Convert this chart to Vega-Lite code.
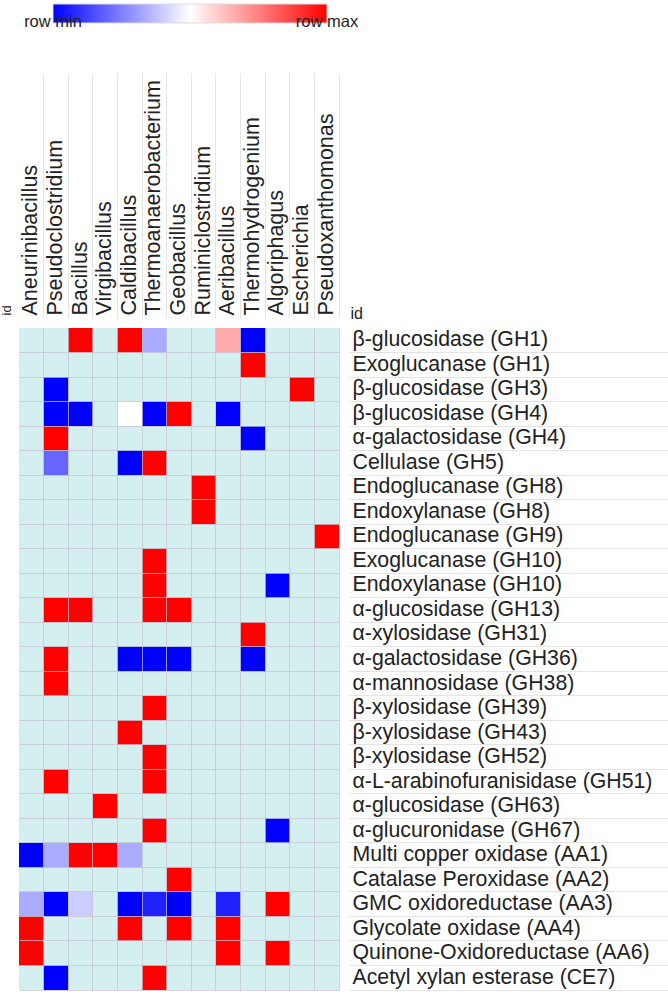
{
  "$schema": "https://vega.github.io/schema/vega-lite/v6.json",
  "width": 320,
  "height": 662,
  "autosize": {"type": "none"},
  "padding": {"left": 19, "top": 328, "right": 329, "bottom": 4},
  "background": "white",
  "config": {"view": {"fill": "#d3efef", "stroke": null}, "font": "Liberation Sans"},
  "data": {"values": [
    {"enzyme": "β-glucosidase (GH1)", "genus": "Bacillus", "value": 1},
    {"enzyme": "β-glucosidase (GH1)", "genus": "Caldibacillus", "value": 1},
    {"enzyme": "β-glucosidase (GH1)", "genus": "Thermoanaerobacterium", "value": -0.33},
    {"enzyme": "β-glucosidase (GH1)", "genus": "Aeribacillus", "value": 0.33},
    {"enzyme": "β-glucosidase (GH1)", "genus": "Thermohydrogenium", "value": -1},
    {"enzyme": "Exoglucanase (GH1)", "genus": "Thermohydrogenium", "value": 1},
    {"enzyme": "β-glucosidase (GH3)", "genus": "Pseudoclostridium", "value": -1},
    {"enzyme": "β-glucosidase (GH3)", "genus": "Escherichia", "value": 1},
    {"enzyme": "β-glucosidase (GH4)", "genus": "Pseudoclostridium", "value": -1},
    {"enzyme": "β-glucosidase (GH4)", "genus": "Bacillus", "value": -1},
    {"enzyme": "β-glucosidase (GH4)", "genus": "Caldibacillus", "value": 0},
    {"enzyme": "β-glucosidase (GH4)", "genus": "Thermoanaerobacterium", "value": -1},
    {"enzyme": "β-glucosidase (GH4)", "genus": "Geobacillus", "value": 1},
    {"enzyme": "β-glucosidase (GH4)", "genus": "Aeribacillus", "value": -1},
    {"enzyme": "α-galactosidase (GH4)", "genus": "Pseudoclostridium", "value": 1},
    {"enzyme": "α-galactosidase (GH4)", "genus": "Thermohydrogenium", "value": -1},
    {"enzyme": "Cellulase (GH5)", "genus": "Pseudoclostridium", "value": -0.6},
    {"enzyme": "Cellulase (GH5)", "genus": "Caldibacillus", "value": -1},
    {"enzyme": "Cellulase (GH5)", "genus": "Thermoanaerobacterium", "value": 1},
    {"enzyme": "Endoglucanase (GH8)", "genus": "Ruminiclostridium", "value": 1},
    {"enzyme": "Endoxylanase (GH8)", "genus": "Ruminiclostridium", "value": 1},
    {"enzyme": "Endoglucanase (GH9)", "genus": "Pseudoxanthomonas", "value": 1},
    {"enzyme": "Exoglucanase (GH10)", "genus": "Thermoanaerobacterium", "value": 1},
    {"enzyme": "Endoxylanase (GH10)", "genus": "Thermoanaerobacterium", "value": 1},
    {"enzyme": "Endoxylanase (GH10)", "genus": "Algoriphagus", "value": -1},
    {"enzyme": "α-glucosidase (GH13)", "genus": "Pseudoclostridium", "value": 1},
    {"enzyme": "α-glucosidase (GH13)", "genus": "Bacillus", "value": 1},
    {"enzyme": "α-glucosidase (GH13)", "genus": "Thermoanaerobacterium", "value": 1},
    {"enzyme": "α-glucosidase (GH13)", "genus": "Geobacillus", "value": 1},
    {"enzyme": "α-xylosidase (GH31)", "genus": "Thermohydrogenium", "value": 1},
    {"enzyme": "α-galactosidase (GH36)", "genus": "Pseudoclostridium", "value": 1},
    {"enzyme": "α-galactosidase (GH36)", "genus": "Caldibacillus", "value": -1},
    {"enzyme": "α-galactosidase (GH36)", "genus": "Thermoanaerobacterium", "value": -1},
    {"enzyme": "α-galactosidase (GH36)", "genus": "Geobacillus", "value": -1},
    {"enzyme": "α-galactosidase (GH36)", "genus": "Thermohydrogenium", "value": -1},
    {"enzyme": "α-mannosidase (GH38)", "genus": "Pseudoclostridium", "value": 1},
    {"enzyme": "β-xylosidase (GH39)", "genus": "Thermoanaerobacterium", "value": 1},
    {"enzyme": "β-xylosidase (GH43)", "genus": "Caldibacillus", "value": 1},
    {"enzyme": "β-xylosidase (GH52)", "genus": "Thermoanaerobacterium", "value": 1},
    {"enzyme": "α-L-arabinofuranisidase (GH51)", "genus": "Pseudoclostridium", "value": 1},
    {"enzyme": "α-L-arabinofuranisidase (GH51)", "genus": "Thermoanaerobacterium", "value": 1},
    {"enzyme": "α-glucosidase (GH63)", "genus": "Virgibacillus", "value": 1},
    {"enzyme": "α-glucuronidase (GH67)", "genus": "Thermoanaerobacterium", "value": 1},
    {"enzyme": "α-glucuronidase (GH67)", "genus": "Algoriphagus", "value": -1},
    {"enzyme": "Multi copper oxidase (AA1)", "genus": "Aneurinibacillus", "value": -1},
    {"enzyme": "Multi copper oxidase (AA1)", "genus": "Pseudoclostridium", "value": -0.33},
    {"enzyme": "Multi copper oxidase (AA1)", "genus": "Bacillus", "value": 1},
    {"enzyme": "Multi copper oxidase (AA1)", "genus": "Virgibacillus", "value": 1},
    {"enzyme": "Multi copper oxidase (AA1)", "genus": "Caldibacillus", "value": -0.33},
    {"enzyme": "Catalase Peroxidase (AA2)", "genus": "Geobacillus", "value": 1},
    {"enzyme": "GMC oxidoreductase (AA3)", "genus": "Aneurinibacillus", "value": -0.33},
    {"enzyme": "GMC oxidoreductase (AA3)", "genus": "Pseudoclostridium", "value": -1},
    {"enzyme": "GMC oxidoreductase (AA3)", "genus": "Bacillus", "value": -0.2},
    {"enzyme": "GMC oxidoreductase (AA3)", "genus": "Caldibacillus", "value": -1},
    {"enzyme": "GMC oxidoreductase (AA3)", "genus": "Thermoanaerobacterium", "value": -0.87},
    {"enzyme": "GMC oxidoreductase (AA3)", "genus": "Geobacillus", "value": -1},
    {"enzyme": "GMC oxidoreductase (AA3)", "genus": "Aeribacillus", "value": -0.87},
    {"enzyme": "GMC oxidoreductase (AA3)", "genus": "Algoriphagus", "value": 1},
    {"enzyme": "Glycolate oxidase (AA4)", "genus": "Aneurinibacillus", "value": 1},
    {"enzyme": "Glycolate oxidase (AA4)", "genus": "Caldibacillus", "value": 1},
    {"enzyme": "Glycolate oxidase (AA4)", "genus": "Geobacillus", "value": 1},
    {"enzyme": "Glycolate oxidase (AA4)", "genus": "Aeribacillus", "value": 1},
    {"enzyme": "Quinone-Oxidoreductase (AA6)", "genus": "Aneurinibacillus", "value": 1},
    {"enzyme": "Quinone-Oxidoreductase (AA6)", "genus": "Aeribacillus", "value": 1},
    {"enzyme": "Quinone-Oxidoreductase (AA6)", "genus": "Algoriphagus", "value": 1},
    {"enzyme": "Acetyl xylan esterase (CE7)", "genus": "Pseudoclostridium", "value": -1},
    {"enzyme": "Acetyl xylan esterase (CE7)", "genus": "Thermoanaerobacterium", "value": 1}
  ]},
  "mark": {"type": "rect"},
  "encoding": {
    "x": {
      "field": "genus", "type": "nominal",
      "scale": {"domain": ["Aneurinibacillus", "Pseudoclostridium", "Bacillus", "Virgibacillus", "Caldibacillus", "Thermoanaerobacterium", "Geobacillus", "Ruminiclostridium", "Aeribacillus", "Thermohydrogenium", "Algoriphagus", "Escherichia", "Pseudoxanthomonas"], "paddingInner": 0, "paddingOuter": 0},
      "axis": {
        "orient": "top", "offset": 10,
        "title": "id", "titleAngle": -90, "titleAlign": "left", "titleBaseline": "alphabetic",
        "titleX": -9, "titleY": -3, "titleFontSize": 13, "titleFontWeight": "normal", "titleColor": "#222",
        "labelAngle": -90, "labelAlign": "left", "labelBaseline": "middle",
        "labelFontSize": 21.5, "labelColor": "#222", "labelPadding": -242, "labelLimit": 400, "labelOverlap": false,
        "ticks": true, "tickSize": 245, "tickColor": "#e4e4e4", "tickWidth": 1, "bandPosition": 1,
        "domain": false, "grid": true, "gridColor": "#c4c0d2", "gridOpacity": 0.7, "gridWidth": 1, "zindex": 1
      }
    },
    "y": {
      "field": "enzyme", "type": "nominal",
      "scale": {"domain": ["β-glucosidase (GH1)", "Exoglucanase (GH1)", "β-glucosidase (GH3)", "β-glucosidase (GH4)", "α-galactosidase (GH4)", "Cellulase (GH5)", "Endoglucanase (GH8)", "Endoxylanase (GH8)", "Endoglucanase (GH9)", "Exoglucanase (GH10)", "Endoxylanase (GH10)", "α-glucosidase (GH13)", "α-xylosidase (GH31)", "α-galactosidase (GH36)", "α-mannosidase (GH38)", "β-xylosidase (GH39)", "β-xylosidase (GH43)", "β-xylosidase (GH52)", "α-L-arabinofuranisidase (GH51)", "α-glucosidase (GH63)", "α-glucuronidase (GH67)", "Multi copper oxidase (AA1)", "Catalase Peroxidase (AA2)", "GMC oxidoreductase (AA3)", "Glycolate oxidase (AA4)", "Quinone-Oxidoreductase (AA6)", "Acetyl xylan esterase (CE7)"], "paddingInner": 0, "paddingOuter": 0},
      "axis": {
        "orient": "right", "offset": 10,
        "title": "id", "titleAngle": 0, "titleAlign": "left", "titleBaseline": "alphabetic",
        "titleX": 1, "titleY": -10, "titleFontSize": 16, "titleFontWeight": "normal", "titleColor": "#222",
        "labelAlign": "left", "labelBaseline": "middle",
        "labelFontSize": 21.3, "labelColor": "#222", "labelPadding": -317, "labelLimit": 400, "labelOverlap": false,
        "ticks": true, "tickSize": 320, "tickColor": "#e4e4e4", "tickWidth": 1, "bandPosition": 1,
        "domain": false, "grid": true, "gridColor": "#c4c0d2", "gridOpacity": 0.7, "gridWidth": 1, "zindex": 1
      }
    },
    "color": {
      "field": "value", "type": "quantitative",
      "scale": {"domain": [-1, 0, 1], "range": ["#0000ff", "#ffffff", "#ff0000"], "interpolate": "rgb"},
      "legend": {
        "orient": "none", "legendX": 34, "legendY": -324, "direction": "horizontal",
        "title": null, "padding": 0,
        "gradientLength": 274, "gradientThickness": 19,
        "gradientStrokeColor": "#dddddd", "gradientStrokeWidth": 1,
        "values": [-1, 1],
        "labelExpr": "datum.value <= -1 ? 'row min' : 'row max'",
        "labelFontSize": 16.5, "labelColor": "#222", "labelOffset": 4, "labelBaseline": "alphabetic", "labelAlign": "center",
        "encode": {"labels": {"update": {"align": {"value": "center"}, "baseline": {"value": "alphabetic"}}}}
      }
    }
  }
}
